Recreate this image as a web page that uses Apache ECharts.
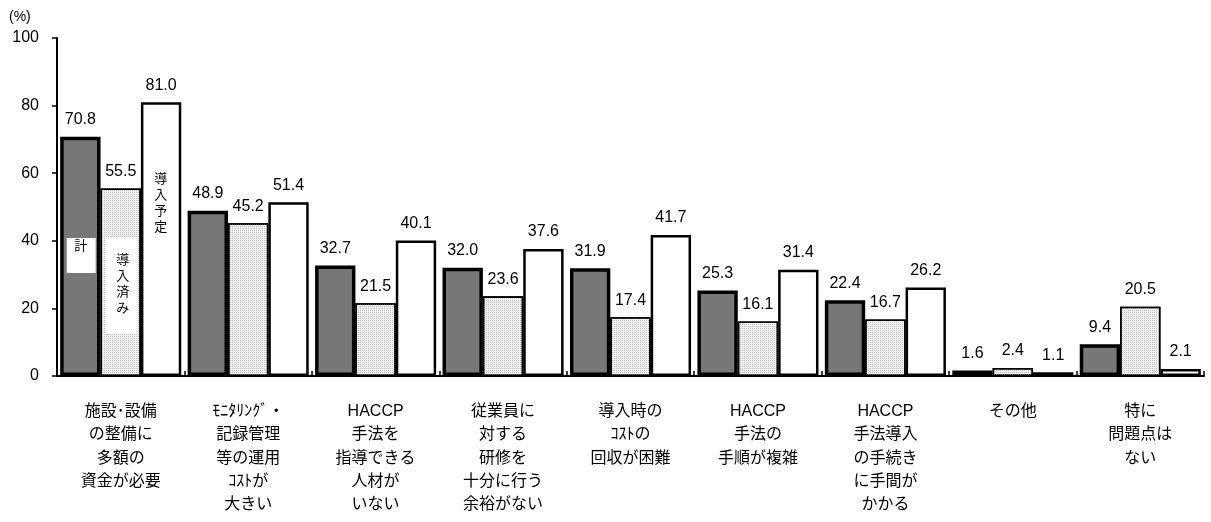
<!DOCTYPE html>
<html>
<head>
<meta charset="utf-8">
<script src="https://cdn.jsdelivr.net/npm/echarts@6/dist/echarts.min.js"></script>
<style>
  html, body { margin: 0; padding: 0; background: #fff; }
  #main { width: 1211px; height: 522px; }
</style>
</head>
<body>
<div id="main"></div>
<script>
// カテゴリ
const categories = [
  '施設･設備\nの整備に\n多額の\n資金が必要',
  'ﾓﾆﾀﾘﾝｸﾞ・\n記録管理\n等の運用\nｺｽﾄが\n大きい',
  'HACCP\n手法を\n指導できる\n人材が\nいない',
  '従業員に\n対する\n研修を\n十分に行う\n余裕がない',
  '導入時の\nｺｽﾄの\n回収が困難',
  'HACCP\n手法の\n手順が複雑',
  'HACCP\n手法導入\nの手続き\nに手間が\nかかる',
  'その他',
  '特に\n問題点は\nない'
];
const seriesNames = ['計', '導入済み', '導入予定'];
const totalValues = [70.8, 48.9, 32.7, 32.0, 31.9, 25.3, 22.4, 1.6, 9.4];
const doneValues = [55.5, 45.2, 21.5, 23.6, 17.4, 16.1, 16.7, 2.4, 20.5];
const plannedValues = [81.0, 51.4, 40.1, 37.6, 41.7, 31.4, 26.2, 1.1, 2.1];
const yTicks = [0, 20, 40, 60, 80, 100];

const FONT = '"Liberation Sans", Arial, "Noto Sans CJK JP", sans-serif';

const chart = echarts.init(document.getElementById('main'));

const labelStyle = {
  show: true,
  position: 'top',
  distance: 9,
  color: '#000',
  fontSize: 16,
  fontFamily: FONT,
  formatter: p => p.value.toFixed(1)
};

const option = {
  animation: false,
  backgroundColor: '#fff',
  grid: { left: 57, right: 7, top: 38, bottom: 146 },
  xAxis: {
    type: 'category',
    data: categories,
    axisLine: { lineStyle: { color: '#000', width: 2 } },
    axisTick: { show: true, inside: true, length: 5, lineStyle: { color: '#000', width: 1.5 } },
    axisLabel: {
      color: '#000',
      fontSize: 16,
      fontFamily: FONT,
      lineHeight: 23.3,
      margin: 24,
      interval: 0
    }
  },
  yAxis: {
    type: 'value',
    min: yTicks[0],
    max: yTicks[yTicks.length - 1],
    interval: 20,
    splitLine: { show: false },
    axisLine: { show: true, lineStyle: { color: '#000', width: 2 } },
    axisTick: { show: true, length: 5, lineStyle: { color: '#000', width: 1.5 } },
    axisLabel: { color: '#000', fontSize: 16, fontFamily: FONT, margin: 18 }
  },
  series: [
    {
      name: seriesNames[0],
      type: 'bar',
      data: totalValues,
      barGap: '0%',
      barCategoryGap: '5%',
      itemStyle: { color: '#777777', borderColor: '#000', borderWidth: 3.5 },
      label: labelStyle
    },
    {
      name: seriesNames[1],
      type: 'bar',
      data: doneValues,
      itemStyle: {
        color: '#eeeeee',
        borderColor: '#000',
        borderWidth: 1.5,
        decal: {
          symbol: 'rect',
          symbolSize: 1,
          dashArrayX: [1, 1],
          dashArrayY: [1, 1],
          color: '#c4c4c4'
        }
      },
      label: labelStyle
    },
    {
      name: seriesNames[2],
      type: 'bar',
      data: plannedValues,
      itemStyle: { color: '#ffffff', borderColor: '#000', borderWidth: 2.5 },
      label: labelStyle
    }
  ]
};

chart.setOption(option);

// 最初のグループ内の系列名ラベル
const x0 = chart.convertToPixel({ xAxisIndex: 0 }, 0);
const bw = 40;
const yAt = v => chart.convertToPixel({ yAxisIndex: 0 }, v);

chart.setOption({
  graphic: [
    {
      type: 'rect',
      shape: { x: x0 - bw - 14, y: yAt(40.8), width: 29, height: yAt(30.5) - yAt(40.8) },
      style: { fill: '#fff' }, z: 100
    },
    {
      type: 'text',
      x: x0 - bw, y: yAt(38.4),
      style: { text: seriesNames[0], fill: '#000', fontSize: 13, fontFamily: FONT, align: 'center', verticalAlign: 'middle' },
      z: 101
    },
    {
      type: 'rect',
      shape: { x: x0 - 15, y: yAt(40.8), width: 31, height: yAt(12.5) - yAt(40.8) },
      style: { fill: '#fff' }, z: 100
    },
    {
      type: 'text',
      x: x0 + 2, y: yAt(27),
      style: { text: seriesNames[1].split('').join('\n'), fill: '#000', fontSize: 13, lineHeight: 16, fontFamily: FONT, align: 'center', verticalAlign: 'middle' },
      z: 101
    },
    {
      type: 'text',
      x: x0 + bw, y: yAt(51),
      style: { text: seriesNames[2].split('').join('\n'), fill: '#000', fontSize: 13, lineHeight: 16, fontFamily: FONT, align: 'center', verticalAlign: 'middle' },
      z: 101
    },
    {
      type: 'text',
      left: 9, top: 10,
      style: { text: '(%)', fill: '#000', fontSize: 14, fontFamily: FONT }
    }
  ]
});
</script>
</body>
</html>
